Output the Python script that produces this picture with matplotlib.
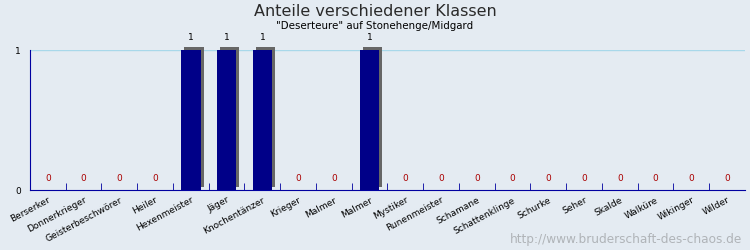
import matplotlib
matplotlib.use("Agg")
import matplotlib.pyplot as plt
import matplotlib.patheffects as pe
import numpy as np

klassen = ["Berserker", "Donnerkrieger", "Geisterbeschwörer", "Heiler", "Hexenmeister",
           "Jäger", "Knochentänzer", "Krieger", "Malmer", "Malmer", "Mystiker",
           "Runenmeister", "Schamane", "Schattenklinge", "Schurke", "Seher", "Skalde",
           "Walküre", "Wikinger", "Wilder"]
anzahl = [0, 0, 0, 0, 1, 1, 1, 0, 0, 1, 0, 0, 0, 0, 0, 0, 0, 0, 0, 0]

bg = "#e4ebf2"
fig = plt.figure(figsize=(7.5, 2.5), dpi=100, facecolor=bg)
ax = fig.add_axes([0.04, 0.24, 0.9533, 0.56], facecolor=bg)

x = np.arange(len(klassen))
bars = ax.bar(x, anzahl, width=0.54, color="#000088", zorder=3,
              path_effects=[pe.SimplePatchShadow(offset=(2.2, 2.2), shadow_rgbFace="#666666", alpha=1.0),
                            pe.Normal()])
for b in bars:
    b.set_clip_on(False)

for xi, v in zip(x, anzahl):
    if v > 0:
        ax.annotate(str(v), (xi, v), xytext=(0, 6), textcoords="offset points",
                    ha="center", va="bottom", fontsize=6.5, color="black")
    else:
        ax.annotate(str(v), (xi, v), xytext=(0, 5), textcoords="offset points",
                    ha="center", va="bottom", fontsize=6.5, color="#aa0000")

ax.set_xlim(-0.5, len(klassen) - 0.5)
ax.set_ylim(0, 1)
ax.axhline(1, color="#a8d8ea", lw=1, zorder=1)

for s in ["top", "right"]:
    ax.spines[s].set_visible(False)
ax.spines["left"].set_color("#0000a0")
ax.spines["bottom"].set_color("#0000a0")

ax.set_yticks([0, 1])
ax.tick_params(axis="y", length=0, labelsize=6.5, pad=6.5)
ax.set_xticks(np.arange(len(klassen) - 1) + 0.5, minor=True)
ax.set_xticks(x)
ax.set_xticklabels(klassen, rotation=28, ha="right", rotation_mode="anchor", fontsize=6.5)
ax.tick_params(axis="x", which="major", length=0, pad=4)
ax.tick_params(axis="x", which="minor", direction="in", length=5, color="#0000a0")

fig.text(0.5, 0.955, "Anteile verschiedener Klassen", ha="center", va="center",
         fontsize=11.5, color="#2a2a2a")
fig.text(0.5, 0.895, '"Deserteure" auf Stonehenge/Midgard', ha="center", va="center",
         fontsize=7.4, color="black")
fig.text(0.989, 0.04, "http://www.bruderschaft-des-chaos.de", ha="right", va="center",
         fontsize=8.7, color="#b0b4b8")

fig.savefig("out.png", dpi=100, facecolor=bg)
